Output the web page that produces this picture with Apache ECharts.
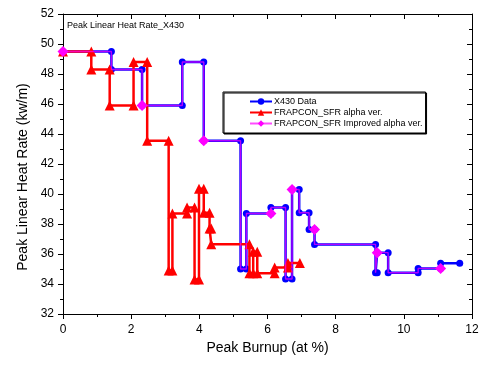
<!DOCTYPE html>
<html>
<head>
<meta charset="utf-8">
<script src="https://cdn.jsdelivr.net/npm/echarts@6/dist/echarts.min.js"></script>
<style>
html,body{margin:0;padding:0;background:#fff;}
#c{width:482px;height:365px;}
</style>
</head>
<body>
<div id="c"></div>
<script>
// ---- data ----
var xTicks = [0, 2, 4, 6, 8, 10, 12];
var yTicks = [32, 34, 36, 38, 40, 42, 44, 46, 48, 50, 52];

var blueName = 'X430 Data';
var blueX = [0, 1.42, 1.42, 2.32, 2.32, 3.50, 3.50, 4.13, 4.13, 5.21, 5.21, 5.38, 5.38, 6.10, 6.10, 6.53, 6.53, 6.72, 6.72, 6.93, 6.93, 7.22, 7.22, 7.38, 7.38, 9.17, 9.17, 9.22, 9.22, 9.54, 9.54, 10.42, 10.42, 11.08, 11.08, 11.64];
var blueY = [49.5, 49.5, 48.3, 48.3, 45.9, 45.9, 48.8, 48.8, 43.55, 43.55, 35.0, 35.0, 38.7, 38.7, 39.1, 39.1, 34.33, 34.33, 40.3, 40.3, 38.75, 38.75, 37.64, 37.64, 36.64, 36.64, 34.75, 34.75, 36.09, 36.09, 34.75, 34.75, 35.04, 35.04, 35.38, 35.38];

var redName = 'FRAPCON_SFR alpha ver.';
var redX = [0, 0.83, 0.83, 1.37, 1.37, 2.07, 2.07, 2.47, 2.47, 3.10, 3.10, 3.21, 3.21, 3.64, 3.64, 3.86, 3.86, 3.99, 3.99, 4.13, 4.13, 4.30, 4.30, 4.35, 4.35, 5.47, 5.47, 5.58, 5.58, 5.70, 5.70, 6.21, 6.21, 6.60, 6.60, 6.95];
var redY = [49.5, 49.5, 48.3, 48.3, 45.9, 45.9, 48.8, 48.8, 43.55, 43.55, 34.9, 34.9, 38.7, 38.7, 39.1, 39.1, 34.3, 34.3, 40.35, 40.35, 38.75, 38.75, 37.7, 37.7, 36.65, 36.65, 34.72, 34.72, 36.15, 36.15, 34.72, 34.72, 35.1, 35.1, 35.4, 35.4];

var pinkName = 'FRAPCON_SFR Improved alpha ver.';
var pinkX = [0, 1.42, 1.42, 2.32, 2.32, 3.50, 3.50, 4.13, 4.13, 5.21, 5.21, 5.38, 5.38, 6.10, 6.10, 6.53, 6.53, 6.72, 6.72, 6.93, 6.93, 7.22, 7.22, 7.38, 7.38, 9.17, 9.17, 9.22, 9.22, 9.54, 9.54, 10.42, 10.42, 11.08];
var pinkY = [49.5, 49.5, 48.3, 48.3, 45.9, 45.9, 48.8, 48.8, 43.55, 43.55, 35.0, 35.0, 38.7, 38.7, 39.1, 39.1, 34.33, 34.33, 40.3, 40.3, 38.75, 38.75, 37.64, 37.64, 36.64, 36.64, 34.75, 34.75, 36.09, 36.09, 34.75, 34.75, 35.04, 35.04];
var pinkMarkerIdx = [0, 4, 8, 13, 18, 23, 28, 33];

var titleText = 'Peak Linear Heat Rate_X430';
var xName = 'Peak Burnup (at %)';
var yName = 'Peak Linear Heat Rate (kw/m)';

function pairs(xs, ys) { return xs.map(function (x, i) { return [x, ys[i]]; }); }

var FONT = "'Liberation Sans', Arial, sans-serif";
var chart = echarts.init(document.getElementById('c'), null, {renderer: 'canvas'});

var axisCommon = {
  type: 'value',
  axisLine: {show: true, onZero: false, lineStyle: {color: '#000', width: 1}},
  splitLine: {show: false},
  minorSplitLine: {show: false}
};

chart.setOption({
  animation: false,
  backgroundColor: '#fff',
  title: {
    text: titleText, left: 67, top: 21, padding: 0,
    textStyle: {fontSize: 9, fontWeight: 'normal', color: '#000', fontFamily: FONT}
  },
  legend: {
    orient: 'vertical', left: 223, top: 92,
    padding: [5, 3, 5, 26], itemGap: 2, itemWidth: 22, itemHeight: 8,
    borderColor: '#000', borderWidth: 1, backgroundColor: '#fff',
    shadowColor: '#000', shadowOffsetX: 1, shadowOffsetY: 1, shadowBlur: 0,
    textStyle: {fontSize: 9, color: '#000', fontFamily: FONT, padding: [0, 0, 0, -3]},
    data: [blueName, redName, pinkName]
  },
  grid: {left: 63, right: 10, top: 14, bottom: 51, containLabel: false},
  xAxis: [
    Object.assign({}, axisCommon, {
      position: 'bottom', min: xTicks[0], max: xTicks[xTicks.length - 1], interval: 2,
      name: xName, nameLocation: 'middle', nameGap: 20,
      nameTextStyle: {fontSize: 14, color: '#000', fontFamily: FONT},
      axisTick: {show: true, inside: false, length: 5, lineStyle: {color: '#000'}},
      minorTick: {show: true, splitNumber: 2, length: 3, lineStyle: {color: '#000'}},
      axisLabel: {fontSize: 12, color: '#000', margin: 10, fontFamily: FONT}
    }),
    Object.assign({}, axisCommon, {
      position: 'top', min: xTicks[0], max: xTicks[xTicks.length - 1], interval: 2,
      axisTick: {show: true, inside: true, length: 5, lineStyle: {color: '#000'}},
      minorTick: {show: true, splitNumber: 2, length: 3, lineStyle: {color: '#000'}},
      axisLabel: {show: false}
    })
  ],
  yAxis: [
    Object.assign({}, axisCommon, {
      position: 'left', min: yTicks[0], max: yTicks[yTicks.length - 1], interval: 2,
      name: yName, nameLocation: 'middle', nameGap: 31, nameRotate: 90,
      nameTextStyle: {fontSize: 14, color: '#000', fontFamily: FONT, padding: [0, 26, 0, 0]},
      axisTick: {show: true, inside: false, length: 5, lineStyle: {color: '#000'}},
      minorTick: {show: true, splitNumber: 2, length: 3, lineStyle: {color: '#000'}},
      axisLabel: {fontSize: 12, color: '#000', margin: 9, fontFamily: FONT}
    }),
    Object.assign({}, axisCommon, {
      position: 'right', min: yTicks[0], max: yTicks[yTicks.length - 1], interval: 2,
      axisTick: {show: true, inside: true, length: 5, lineStyle: {color: '#000'}},
      minorTick: {show: true, splitNumber: 2, length: 3, lineStyle: {color: '#000'}},
      axisLabel: {show: false}
    })
  ],
  series: [
    {
      name: blueName, type: 'line', xAxisIndex: 0, yAxisIndex: 0,
      data: pairs(blueX, blueY),
      symbol: 'circle', symbolSize: 7, showAllSymbol: true,
      lineStyle: {color: '#0000ff', width: 2.5},
      itemStyle: {color: '#0000ff'},
      z: 2
    },
    {
      name: redName, type: 'line', xAxisIndex: 0, yAxisIndex: 0,
      data: pairs(redX, redY),
      symbol: 'triangle', symbolSize: 10, showAllSymbol: true,
      lineStyle: {color: '#ff0000', width: 2.5},
      itemStyle: {color: '#ff0000'},
      z: 3
    },
    {
      name: pinkName, type: 'line', xAxisIndex: 0, yAxisIndex: 0,
      data: pairs(pinkX, pinkY).map(function (p, i) {
        return pinkMarkerIdx.indexOf(i) >= 0 ? {value: p} : {value: p, symbol: 'none'};
      }),
      symbol: 'diamond', symbolSize: 11, showAllSymbol: true,
      lineStyle: {color: '#ff00ff', width: 1.4, opacity: 0.7},
      itemStyle: {color: '#ff00ff'},
      z: 4
    }
  ]
});
</script>
</body>
</html>
